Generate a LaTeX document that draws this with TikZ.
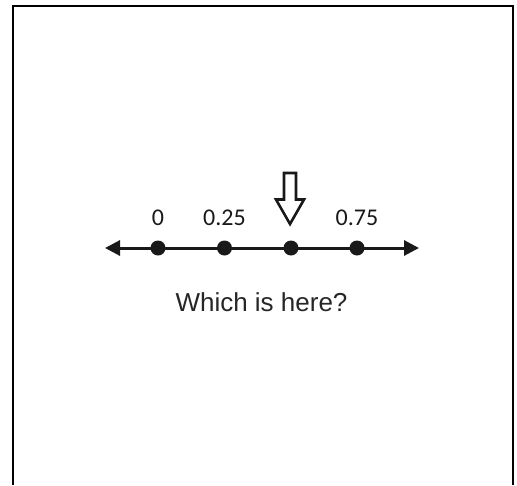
\documentclass[tikz,border=0pt]{standalone}
\usepackage{fontspec}
\setmainfont{Liberation Sans}
\newfontfamily\numfont{Carlito}
\usetikzlibrary{arrows.meta}
\tikzset{
  dotnode/.style={circle,fill=black!90,inner sep=0pt,minimum size=15pt},
  numlabel/.style={anchor=base,inner sep=0pt,text=black!90,font=\numfont\fontsize{24}{28}\selectfont},
  qlabel/.style={anchor=base,inner sep=0pt,text=black!85,font=\fontsize{26}{31}\selectfont},
  axis/.style={line width=3pt,draw=black!90,{Triangle[length=15pt,width=15pt]}-{Triangle[length=15pt,width=15pt]}},
  frameline/.style={line width=2pt,draw=black}
}
\begin{document}
\begin{tikzpicture}[x=1pt,y=-1pt]
\useasboundingbox (0,0) rectangle (517,485);
\draw[frameline] (13,485) -- (13,5.5) -- (512.5,5.5) -- (512.5,485);
\coordinate (L) at (105,248);
\coordinate (R) at (419,248);
\draw[axis] (L) -- (R);
\node[dotnode] (d0) at (158,248) {};
\node[dotnode] (d1) at (224.5,248) {};
\node[dotnode] (d2) at (291,248) {};
\node[dotnode] (d3) at (357,248) {};
\node[numlabel] (l0) at (158,225) {0};
\node[numlabel] (l1) at (224.5,225) {0.25};
\node[numlabel] (l3) at (357,225) {0.75};
\draw[line width=2.6pt,line join=miter,draw=black!90,fill=white]
  (284,173) -- (296,173) -- (296,199.5) -- (304,199.5) -- (290,224) -- (276,199.5) -- (284,199.5) -- cycle;
\node[qlabel] (q) at (261.5,311.5) {Which is here?};
\end{tikzpicture}
\end{document}
